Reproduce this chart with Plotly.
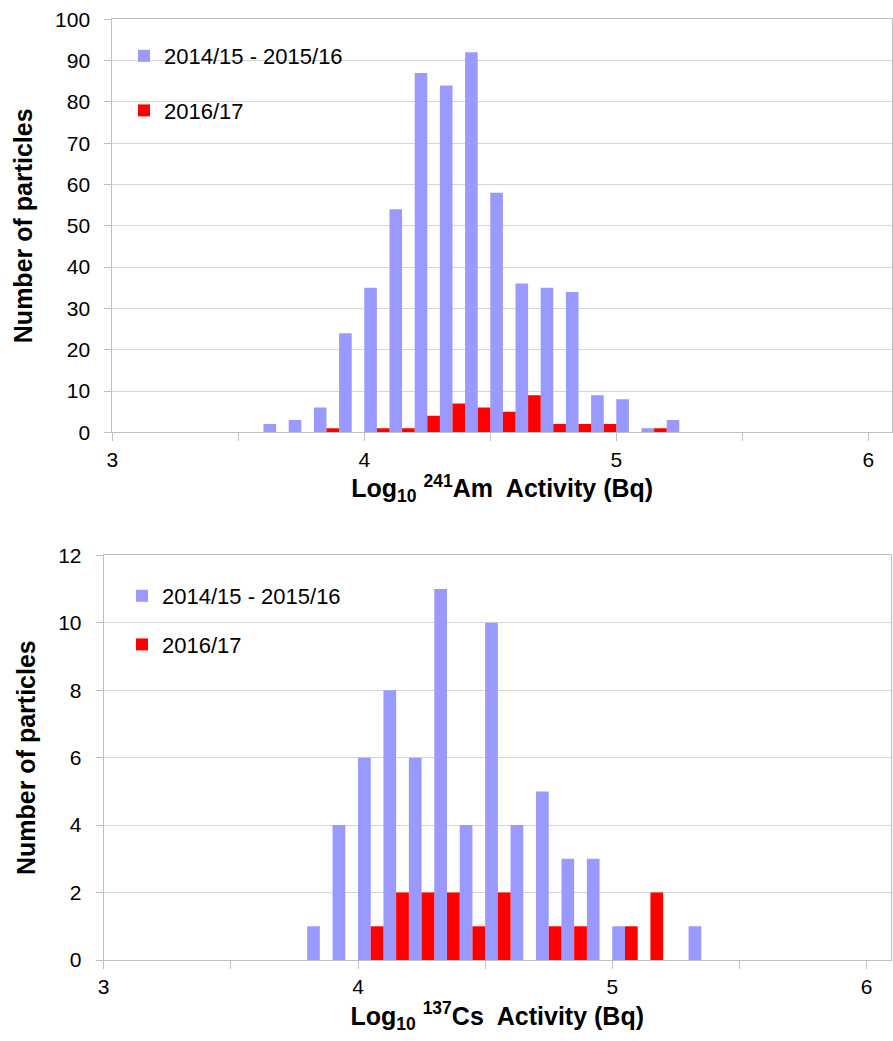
import plotly.graph_objects as go

# ---------------- data ----------------
series_names = ["2014/15 - 2015/16", "2016/17"]

# Am-241 histogram (bin lower edges, log10 Bq; bin width 0.1)
am_bins = [3.6, 3.7, 3.8, 3.9, 4.0, 4.1, 4.2, 4.3, 4.4, 4.5, 4.6, 4.7, 4.8, 4.9, 5.0, 5.1, 5.2]
am_1415_1516 = [2, 3, 6, 24, 35, 54, 87, 84, 92, 58, 36, 35, 34, 9, 8, 1, 3]
am_1617 = [0, 0, 1, 0, 1, 1, 4, 7, 6, 5, 9, 2, 2, 2, 0, 1, 0]

# Cs-137 histogram
cs_bins = [3.8, 3.9, 4.0, 4.1, 4.2, 4.3, 4.4, 4.5, 4.6, 4.7, 4.8, 4.9, 5.0, 5.1, 5.2, 5.3]
cs_1415_1516 = [1, 4, 6, 8, 6, 11, 4, 10, 4, 5, 3, 3, 1, 0, 0, 1]
cs_1617 = [0, 0, 1, 2, 2, 2, 1, 2, 0, 1, 1, 0, 1, 2, 0, 0]

# ---------------- style ----------------
BLUE = "#9999FF"
RED = "#FF0000"
GRID = "#D6D6D6"
LINE = "#BFBFBF"
FONT = "Liberation Sans, Arial, sans-serif"
W, H = 893, 1041

fig = go.Figure()

bar_w = 0.05
for bins, blue, red, xa, ya, lg in [
    (am_bins, am_1415_1516, am_1617, "x", "y", "legend"),
    (cs_bins, cs_1415_1516, cs_1617, "x2", "y2", "legend2"),
]:
    fig.add_trace(go.Bar(x=bins, y=blue, width=bar_w, offset=0, name=series_names[0],
                         marker=dict(color=BLUE, line=dict(width=0)),
                         xaxis=xa, yaxis=ya, legend=lg, legendgroup=lg + "a"))
    fig.add_trace(go.Bar(x=bins, y=red, width=bar_w, offset=bar_w, name=series_names[1],
                         marker=dict(color=RED, line=dict(width=0)),
                         xaxis=xa, yaxis=ya, legend=lg, legendgroup=lg + "b"))


def px_x(p):
    return p / W


def px_y(p):
    return 1 - p / H


xaxis_common = dict(
    tickmode="linear", tick0=3, dtick=1, ticks="outside", ticklen=8,
    tickcolor=LINE, showline=True, linecolor=LINE, linewidth=1, mirror=True,
    minor=dict(dtick=0.5, tick0=3, ticks="outside", ticklen=8, tickcolor=LINE, showgrid=False),
    showgrid=False, zeroline=False, automargin=False,
    tickfont=dict(family=FONT, size=21, color="#000000"),
    ticklabelstandoff=0,
)
yaxis_common = dict(
    ticks="outside", ticklen=7, tickcolor=LINE, showline=True, linecolor=LINE,
    linewidth=1, mirror=True, showgrid=True, gridcolor=GRID, gridwidth=1,
    zeroline=False, automargin=False, tickfont=dict(family=FONT, size=21, color="#000000"),
    ticklabelstandoff=10,
)

fig.update_layout(
    width=W, height=H,
    margin=dict(l=0, r=0, t=0, b=0, autoexpand=False),
    paper_bgcolor="white", plot_bgcolor="white",
    barmode="overlay",
    font=dict(family=FONT, color="#000000"),
    xaxis=dict(xaxis_common, domain=[px_x(112.3), px_x(892)], range=[3, 3 + (892 - 112.3) / 252],
               anchor="y",
               title=dict(text="<b>Log<sub>10</sub> <sup>241</sup>Am  Activity (Bq)</b>",
                          font=dict(family=FONT, size=25, color="#000000"), standoff=0)),
    yaxis=dict(yaxis_common, domain=[px_y(432.3), px_y(19.3)], range=[0, 100],
               tickmode="linear", tick0=0, dtick=10, anchor="x",
               title=dict(text="<b>Number of particles</b>",
                          font=dict(family=FONT, size=25, color="#000000"), standoff=15)),
    xaxis2=dict(xaxis_common, domain=[px_x(103.7), px_x(890.7)], range=[3, 3 + (890.7 - 103.7) / 254.3],
                anchor="y2",
                title=dict(text="<b>Log<sub>10</sub> <sup>137</sup>Cs  Activity (Bq)</b>",
                           font=dict(family=FONT, size=25, color="#000000"), standoff=2)),
    yaxis2=dict(yaxis_common, domain=[px_y(960), px_y(555.3)], range=[0, 12],
                tickmode="linear", tick0=0, dtick=2, anchor="x2",
                title=dict(text="<b>Number of particles</b>",
                           font=dict(family=FONT, size=25, color="#000000"), standoff=15)),
    legend=dict(x=px_x(124), y=px_y(35), xanchor="left", yanchor="top",
                bgcolor="rgba(0,0,0,0)", font=dict(family=FONT, size=22, color="#000000"),
                tracegroupgap=23, itemclick=False),
    legend2=dict(x=px_x(122), y=px_y(575), xanchor="left", yanchor="top",
                 bgcolor="rgba(0,0,0,0)", font=dict(family=FONT, size=22, color="#000000"),
                 tracegroupgap=17, itemclick=False),
    showlegend=True,
)

fig.write_html("out.html",
               config={"displayModeBar": False},
               post_script="document.body.style.margin='0';document.body.style.padding='0';"
                           "document.documentElement.style.overflow='hidden';")
